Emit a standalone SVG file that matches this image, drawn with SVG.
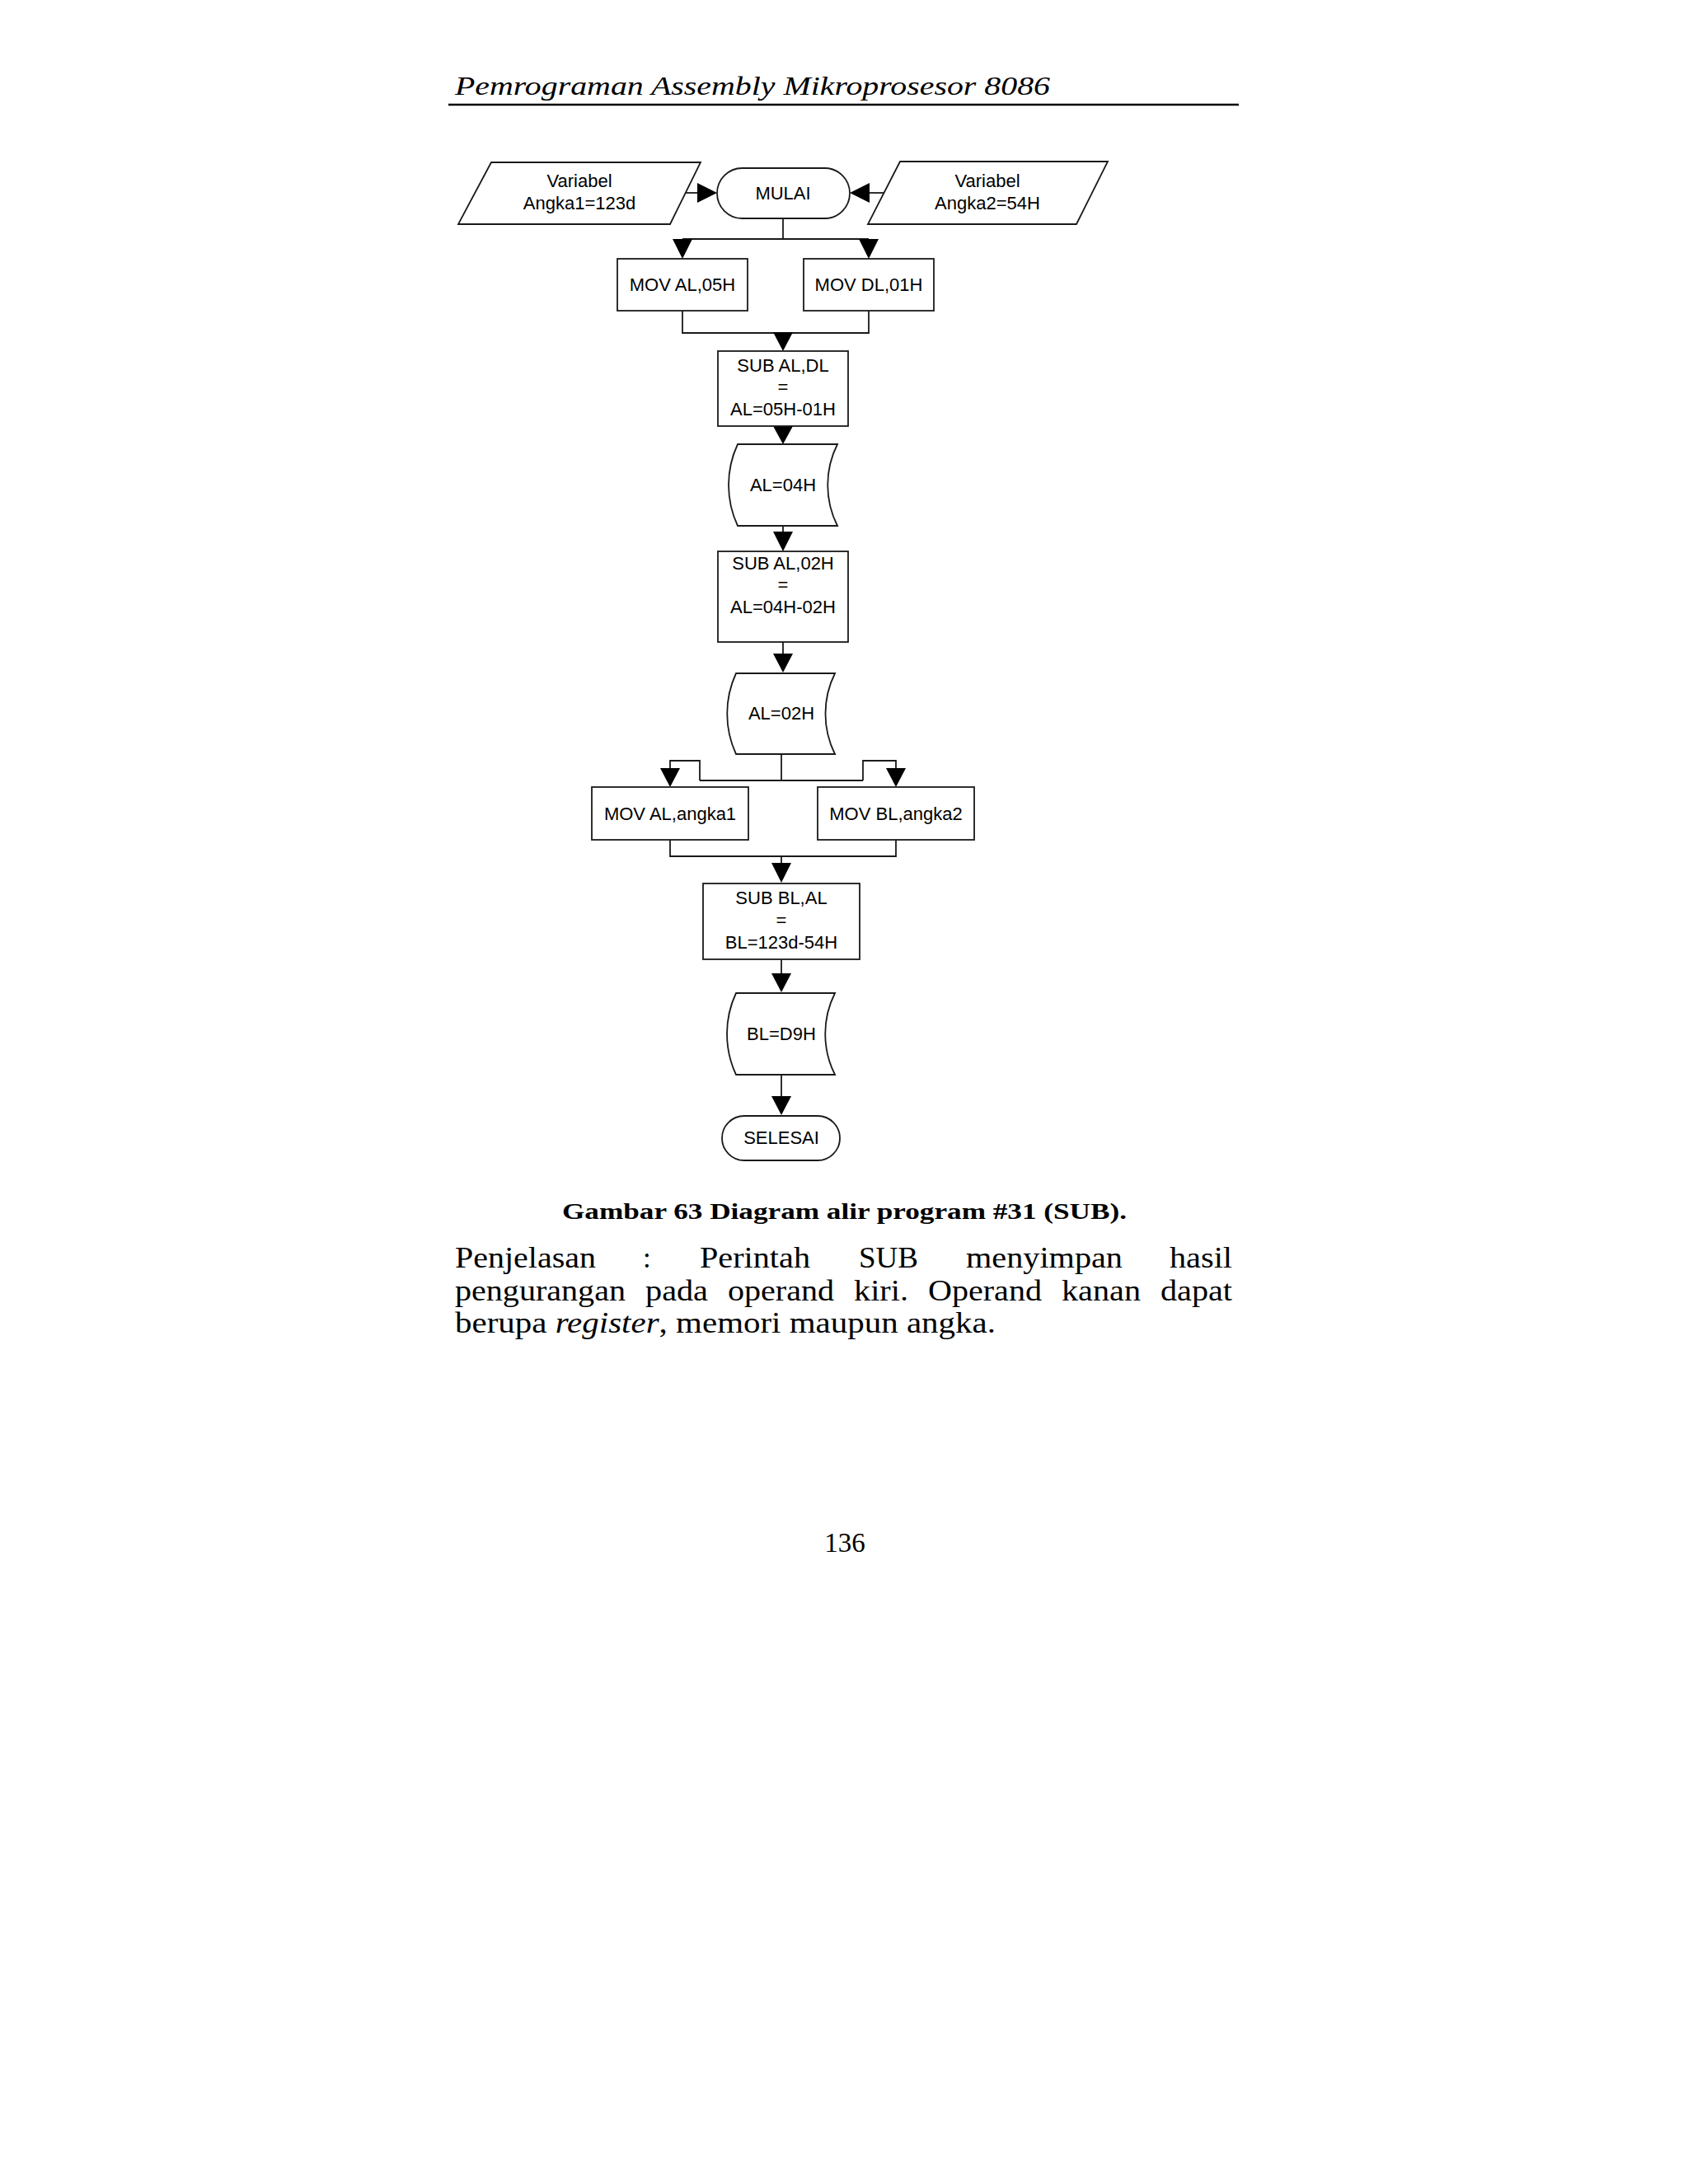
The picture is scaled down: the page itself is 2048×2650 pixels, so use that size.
<svg xmlns="http://www.w3.org/2000/svg" width="2048" height="2650" viewBox="0 0 2048 2650">
<style>
.shape{fill:#fff;stroke:#1a1a1a;stroke-width:1.8}
.line{fill:none;stroke:#1a1a1a;stroke-width:1.8}
.ah{fill:#000;stroke:none}
.lbl{font-family:"Liberation Sans",Arial,sans-serif;font-size:22px;fill:#000;text-anchor:middle}
.body{font-family:"Liberation Serif","Times New Roman",serif;font-size:35px;fill:#000}
</style>
<rect x="0" y="0" width="2048" height="2650" fill="#fff"/>

<g id="page-header">
<text x="552" y="115" font-family="Liberation Serif, Times New Roman, serif" font-style="italic" font-size="32" textLength="722" lengthAdjust="spacingAndGlyphs" fill="#000">Pemrograman Assembly Mikroprosesor 8086</text>
<line x1="544" y1="127" x2="1503" y2="127" stroke="#000" stroke-width="2.5"/>
</g>

<g id="connectors">
<line class="line" x1="832" y1="234" x2="848" y2="234"/>
<polygon class="ah" points="846,222 846,246 870,234"/>
<line class="line" x1="1072" y1="234" x2="1055" y2="234"/>
<polygon class="ah" points="1055,222 1055,246 1031,234"/>
<polyline class="line" points="950,265 950,290"/>
<line class="line" x1="828" y1="290" x2="1054" y2="290"/>
<polygon class="ah" points="816,290 840,290 828,314"/>
<polygon class="ah" points="1042,290 1066,290 1054,314"/>
<polyline class="line" points="828,377 828,404 1054,404 1054,377"/>
<polygon class="ah" points="938,403 962,403 950,426"/>
<polygon class="ah" points="938,517 962,517 950,539"/>
<line class="line" x1="950" y1="638" x2="950" y2="646"/>
<polygon class="ah" points="938,645 962,645 950,669"/>
<line class="line" x1="950" y1="779" x2="950" y2="794"/>
<polygon class="ah" points="938,793 962,793 950,816"/>
<polyline class="line" points="948,915 948,947"/>
<polyline class="line" points="849,947 1047,947"/>
<polyline class="line" points="849,947 849,923 813,923 813,933"/>
<polyline class="line" points="1047,947 1047,923 1087,923 1087,933"/>
<polygon class="ah" points="801,932 825,932 813,955"/>
<polygon class="ah" points="1075,932 1099,932 1087,955"/>
<polyline class="line" points="813,1019 813,1039 1087,1039 1087,1019"/>
<line class="line" x1="948" y1="1039" x2="948" y2="1048"/>
<polygon class="ah" points="936,1047 960,1047 948,1071"/>
<line class="line" x1="948" y1="1164" x2="948" y2="1182"/>
<polygon class="ah" points="936,1181 960,1181 948,1204"/>
<line class="line" x1="948" y1="1304" x2="948" y2="1331"/>
<polygon class="ah" points="936,1330 960,1330 948,1353"/>
</g>

<g id="var-angka1">
<polygon class="shape" points="596,197 850,197 813,272 556,272"/>
<text class="lbl" x="703" y="227">Variabel</text>
<text class="lbl" x="703" y="254">Angka1=123d</text>
</g>

<g id="mulai">
<rect class="shape" x="870" y="204" width="161" height="61" rx="30.5" ry="30.5"/>
<text class="lbl" x="950" y="242">MULAI</text>
</g>

<g id="var-angka2">
<polygon class="shape" points="1092,196 1344,196 1306,272 1053,272"/>
<text class="lbl" x="1198" y="227">Variabel</text>
<text class="lbl" x="1198" y="254">Angka2=54H</text>
</g>

<g id="mov-al-05h">
<rect class="shape" x="749" y="314" width="158" height="63"/>
<text class="lbl" x="828" y="353">MOV AL,05H</text>
</g>

<g id="mov-dl-01h">
<rect class="shape" x="975" y="314" width="158" height="63"/>
<text class="lbl" x="1054" y="353">MOV DL,01H</text>
</g>

<g id="sub-al-dl">
<rect class="shape" x="871" y="426" width="158" height="91"/>
<text class="lbl" x="950" y="451">SUB AL,DL</text>
<text class="lbl" x="950" y="477">=</text>
<text class="lbl" x="950" y="504">AL=05H-01H</text>
</g>

<g id="al-04h">
<path class="shape" d="M895,539 L1016,539 A110,110 0 0,0 1016,638 L895,638 A117,117 0 0,1 895,539 Z"/>
<text class="lbl" x="950" y="596">AL=04H</text>
</g>

<g id="sub-al-02h">
<rect class="shape" x="871" y="669" width="158" height="110"/>
<text class="lbl" x="950" y="691">SUB AL,02H</text>
<text class="lbl" x="950" y="717">=</text>
<text class="lbl" x="950" y="744">AL=04H-02H</text>
</g>

<g id="al-02h">
<path class="shape" d="M893,817 L1013,817 A110,110 0 0,0 1013,915 L893,915 A117,117 0 0,1 893,817 Z"/>
<text class="lbl" x="948" y="873">AL=02H</text>
</g>

<g id="mov-al-angka1">
<rect class="shape" x="718" y="955" width="190" height="64"/>
<text class="lbl" x="813" y="995">MOV AL,angka1</text>
</g>

<g id="mov-bl-angka2">
<rect class="shape" x="992" y="955" width="190" height="64"/>
<text class="lbl" x="1087" y="995">MOV BL,angka2</text>
</g>

<g id="sub-bl-al">
<rect class="shape" x="853" y="1072" width="190" height="92"/>
<text class="lbl" x="948" y="1097">SUB BL,AL</text>
<text class="lbl" x="948" y="1124">=</text>
<text class="lbl" x="948" y="1151">BL=123d-54H</text>
</g>

<g id="bl-d9h">
<path class="shape" d="M893,1205 L1013,1205 A110,110 0 0,0 1013,1304 L893,1304 A117,117 0 0,1 893,1205 Z"/>
<text class="lbl" x="948" y="1262">BL=D9H</text>
</g>

<g id="selesai">
<rect class="shape" x="876" y="1354" width="143" height="54" rx="27" ry="27"/>
<text class="lbl" x="948" y="1388">SELESAI</text>
</g>

<g id="caption">
<text x="682" y="1479" font-family="Liberation Serif, Times New Roman, serif" font-weight="bold" font-size="28" textLength="685" lengthAdjust="spacingAndGlyphs" fill="#000">Gambar 63 Diagram alir program #31 (SUB).</text>
</g>

<g id="paragraph">
<text class="body" x="552" y="1538" textLength="171" lengthAdjust="spacingAndGlyphs">Penjelasan</text>
<text class="body" x="780" y="1538">:</text>
<text class="body" x="849" y="1538" textLength="134" lengthAdjust="spacingAndGlyphs">Perintah</text>
<text class="body" x="1042" y="1538" textLength="72" lengthAdjust="spacingAndGlyphs">SUB</text>
<text class="body" x="1172" y="1538" textLength="190" lengthAdjust="spacingAndGlyphs">menyimpan</text>
<text class="body" x="1419" y="1538" textLength="76" lengthAdjust="spacingAndGlyphs">hasil</text>

<text class="body" x="552" y="1578" textLength="207" lengthAdjust="spacingAndGlyphs">pengurangan</text>
<text class="body" x="783" y="1578" textLength="76" lengthAdjust="spacingAndGlyphs">pada</text>
<text class="body" x="883" y="1578" textLength="129" lengthAdjust="spacingAndGlyphs">operand</text>
<text class="body" x="1036" y="1578" textLength="66" lengthAdjust="spacingAndGlyphs">kiri.</text>
<text class="body" x="1126" y="1578" textLength="138" lengthAdjust="spacingAndGlyphs">Operand</text>
<text class="body" x="1288" y="1578" textLength="96" lengthAdjust="spacingAndGlyphs">kanan</text>
<text class="body" x="1408" y="1578" textLength="87" lengthAdjust="spacingAndGlyphs">dapat</text>

<text class="body" x="552" y="1617" textLength="656" lengthAdjust="spacingAndGlyphs">berupa <tspan font-style="italic">register</tspan>, memori maupun angka.</text>
</g>

<g id="page-number">
<text x="1025" y="1883" font-family="Liberation Serif, Times New Roman, serif" font-size="33" text-anchor="middle" fill="#000">136</text>
</g>
</svg>
